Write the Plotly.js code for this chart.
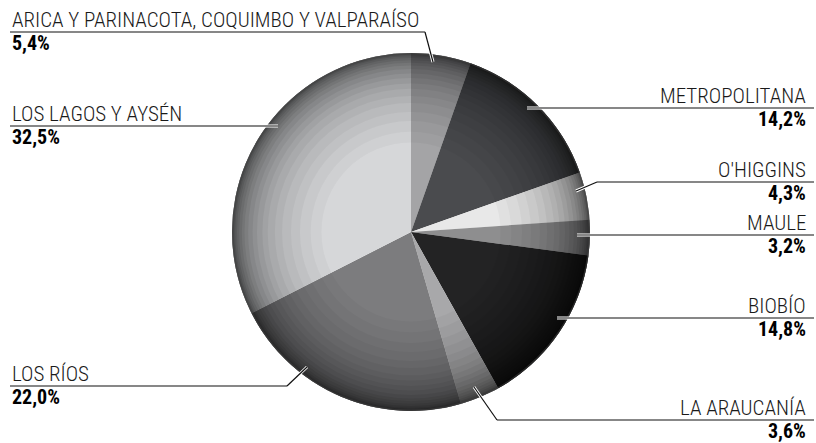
<!DOCTYPE html>
<html>
<head>
<meta charset="utf-8">
<script src="https://cdn.plot.ly/plotly-3.0.1.min.js"></script>
<style>html,body{margin:0;padding:0;background:#fff;}#chart{width:816px;height:443px;}</style>
</head>
<body>
<div id="chart"></div>
<script>
// ---- data ----
const regions = ["ARICA Y PARINACOTA, COQUIMBO Y VALPARAÍSO", "METROPOLITANA", "O'HIGGINS", "MAULE", "BIOBÍO", "LA ARAUCANÍA", "LOS RÍOS", "LOS LAGOS Y AYSÉN"];
const shares = [5.4, 14.2, 4.3, 3.2, 14.8, 3.6, 22.0, 32.5];
const shareLabels = ["5,4%", "14,2%", "4,3%", "3,2%", "14,8%", "3,6%", "22,0%", "32,5%"];
const sliceColors = ["#a4a4a6", "#4a4b4e", "#e8e8e8", "#8e8e8f", "#232324", "#a8a8aa", "#7c7c7e", "#d6d7d9"];

// ---- decorative radial shading (rim darkening) ----
const shadeHoles = [0.5, 0.56, 0.62, 0.67, 0.72, 0.76, 0.8, 0.83, 0.86, 0.885, 0.91, 0.93, 0.945, 0.96, 0.972, 0.982, 0.99];
const shadeAlphas = [0.03, 0.03, 0.035, 0.035, 0.04, 0.045, 0.045, 0.05, 0.055, 0.06, 0.065, 0.07, 0.075, 0.08, 0.09, 0.1, 0.12];

// ---- layout geometry (pixels) ----
const W = 816, H = 443;
const cx = 411, cy = 232, R = 179;
const px = x => x / W;
const py = y => 1 - y / H;
const dom = {x: [px(cx - R), px(cx + R)], y: [py(cy + R), py(cy - R)]};

// label placement: side, underline y, bend x, anchor point on slice
const labelLayout = [
  {side: "left",  lineY: 32,  bendX: 425, ax: 433, ay: 62},
  {side: "right", lineY: 108, bendX: 527, ax: 527, ay: 108},
  {side: "right", lineY: 182, bendX: 597, ax: 576, ay: 191},
  {side: "right", lineY: 235, bendX: 577, ax: 577, ay: 235},
  {side: "right", lineY: 318, bendX: 557, ax: 557, ay: 318},
  {side: "right", lineY: 420, bendX: 497, ax: 474, ay: 387},
  {side: "left",  lineY: 386, bendX: 287, ax: 307, ay: 367},
  {side: "left",  lineY: 126, bendX: 278, ax: 278, ay: 126}
];

const FONT = "'Roboto Condensed', 'Liberation Sans Narrow', Roboto, 'Liberation Sans', sans-serif";

const traces = [{
  type: "pie",
  labels: regions,
  values: shares,
  sort: false,
  direction: "clockwise",
  rotation: 0,
  marker: {colors: sliceColors, line: {width: 0}},
  textinfo: "none",
  hoverinfo: "label+percent",
  showlegend: false,
  domain: dom
}];
shadeHoles.forEach((h, i) => {
  traces.push({
    type: "pie",
    values: [1],
    labels: ["shade" + i],
    hole: h,
    sort: false,
    marker: {colors: ["rgba(0,0,0," + shadeAlphas[i] + ")"], line: {width: 0}},
    textinfo: "none",
    hoverinfo: "skip",
    showlegend: false,
    domain: dom
  });
});
// thin rim outline
traces.push({
  type: "pie", values: [1], labels: ["rim"], hole: 0.992, sort: false,
  marker: {colors: ["rgba(70,70,70,0.5)"], line: {width: 0}},
  textinfo: "none", hoverinfo: "skip", showlegend: false, domain: dom
});

const annotations = [];
const shapes = [];
function seg(x0, y0, x1, y1, color, width) {
  shapes.push({type: "line", xref: "paper", yref: "paper", x0: px(x0), y0: py(y0), x1: px(x1), y1: py(y1), line: {color: color, width: width}});
}
function leader(L, color, width) {
  const left = L.side === "left";
  const endX = left ? 10 : 814;
  seg(endX, L.lineY, L.bendX, L.lineY, color, width);
  if (L.bendX !== L.ax || L.lineY !== L.ay) seg(L.bendX, L.lineY, L.ax, L.ay, color, width);
}
labelLayout.forEach((L, i) => {
  const left = L.side === "left";
  const tx = left ? 10 : 808;
  annotations.push({
    xref: "paper", yref: "paper", x: px(tx), y: py(L.lineY - 12),
    xanchor: left ? "left" : "right", yanchor: "middle", showarrow: false,
    text: regions[i], font: {family: FONT, size: 21, color: "#1a1a1a", weight: 300}
  });
  annotations.push({
    xref: "paper", yref: "paper", x: px(tx), y: py(L.lineY + 11),
    xanchor: left ? "left" : "right", yanchor: "middle", showarrow: false,
    text: "<b>" + shareLabels[i] + "</b>", font: {family: FONT, size: 20, color: "#000000"}
  });
});
labelLayout.forEach(L => leader(L, "#ffffff", 3));
labelLayout.forEach(L => leader(L, "#111111", 1.2));

const layout = {
  width: W, height: H,
  margin: {l: 0, r: 0, t: 0, b: 0},
  paper_bgcolor: "#ffffff",
  showlegend: false,
  annotations: annotations,
  shapes: shapes
};

Plotly.newPlot("chart", traces, layout, {displayModeBar: false, staticPlot: true});
</script>
</body>
</html>
